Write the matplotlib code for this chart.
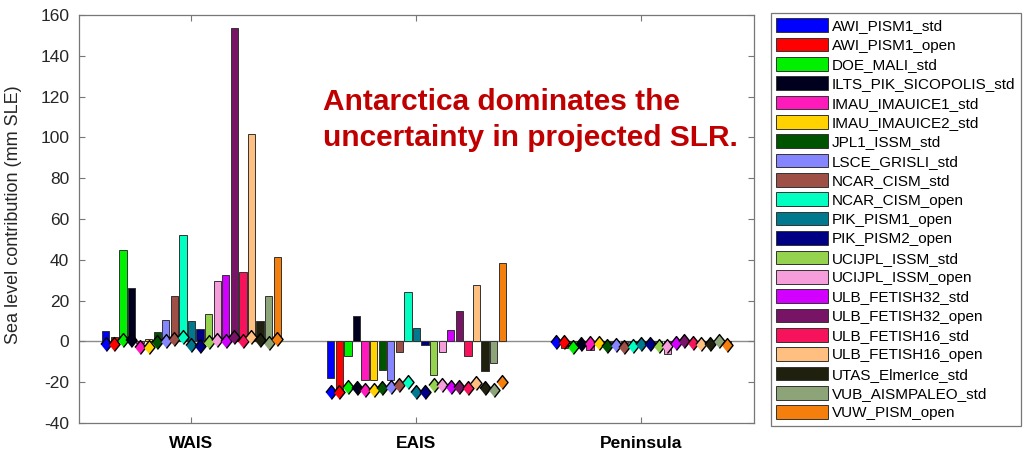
import matplotlib.pyplot as plt
import numpy as np

plt.rcParams["font.family"] = ["Liberation Sans", "DejaVu Sans"]
plt.rcParams["axes.unicode_minus"] = False

regions = ["WAIS", "EAIS", "Peninsula"]

models = [
    "AWI_PISM1_std", "AWI_PISM1_open", "DOE_MALI_std", "ILTS_PIK_SICOPOLIS_std",
    "IMAU_IMAUICE1_std", "IMAU_IMAUICE2_std", "JPL1_ISSM_std", "LSCE_GRISLI_std",
    "NCAR_CISM_std", "NCAR_CISM_open", "PIK_PISM1_open", "PIK_PISM2_open",
    "UCIJPL_ISSM_std", "UCIJPL_ISSM_open", "ULB_FETISH32_std", "ULB_FETISH32_open",
    "ULB_FETISH16_std", "ULB_FETISH16_open", "UTAS_ElmerIce_std", "VUB_AISMPALEO_std",
    "VUW_PISM_open",
]

colors = [
    "#0000ff", "#ff0000", "#00f000", "#00001e",
    "#ff1abc", "#ffd200", "#005400", "#8585ff",
    "#9e4f46", "#00ffc1", "#00788d", "#000084",
    "#95d34f", "#f69edc", "#d200ff", "#781466",
    "#f7125c", "#ffbf81", "#20200e", "#8da378",
    "#f57f0c",
]

# bar heights (mm SLE), one value per model
bars_wais = [5, 2, 45, 26, -1, 1, 4.5, 10.5, 22.5, 52, 10, 6,
             13.5, 29.5, 32.5, 153.5, 34, 101.5, 10, 22.5, 41.5]
bars_eais = [-18, -24, -7, 12.5, -19, -19, -14, -19, -5, 24, 6.5, -2,
             -16.5, -5, 5.5, 15, -7, 27.5, -14.5, -10.5, 38.5]
bars_pen = [-0.5, -3, -1, -0.5, -4, -0.5, -1, -1, -1, -0.5, -0.5, -0.5,
            -1, -6, -0.5, -0.5, -1, -0.5, -1, -0.5, -1]

# diamond markers (mm SLE)
dia_wais = [-1.1, -1.3, 0.8, 0.8, -2.5, -2.5, -0.5, 0, 1.1, 2.1, -1.6, -2.1,
            -0.5, 0.5, 0, 2.1, 0, 2, 0.8, -0.8, 1.1]
dia_eais = [-25, -25, -22.5, -23, -24, -24, -23, -22.5, -21.2, -19.9, -25, -25,
            -21.4, -21.4, -22.5, -22.2, -22.6, -20.5, -22.6, -24, -19.9]
dia_pen = [-0.3, -0.3, -2.8, -1.1, -0.7, -0.7, -2.3, -2, -2.8, -2.3, -1.5, -1.1,
           -2.3, -2.3, -0.7, 0.2, -1, -1.5, -1.5, 0, -2]

bars = np.array([bars_wais, bars_eais, bars_pen])
dias = np.array([dia_wais, dia_eais, dia_pen])

fig = plt.figure(figsize=(10.27, 4.49), dpi=100)
ax = fig.add_axes([79 / 1027, 26 / 449, 675 / 1027, 408 / 449])

groups = np.arange(1, len(regions) + 1)
n = len(models)
step = 0.8 / n
diamond = [(0, -1), (0.8, 0), (0, 1), (-0.8, 0)]

ax.axhline(0, color="#8c8c8c", lw=1.0, zorder=1)
for i, (name, col) in enumerate(zip(models, colors)):
    x = groups + (i - (n - 1) / 2) * step
    ax.bar(x, bars[:, i], width=step * 0.85, color=col, edgecolor="#333333",
           linewidth=0.7, label=name, zorder=2)
for i, col in enumerate(colors):
    x = groups + (i - (n - 1) / 2) * step
    ax.plot(x, dias[:, i], linestyle="none", marker=diamond, markersize=10,
            markerfacecolor=col, markeredgecolor="black", markeredgewidth=1.0,
            zorder=3)

ax.set_xlim(0.5, 3.5)
ax.set_ylim(-40, 160)
ax.set_yticks(np.arange(-40, 161, 20))
ax.set_xticks(groups)
ax.set_xticklabels(regions, fontsize=12.5, fontweight="bold")
ax.tick_params(axis="y", labelsize=12.5, labelcolor="#262626")
ax.tick_params(direction="in", length=4, width=0.8, color="#777777",
               top=True, right=True)
ax.tick_params(axis="x", pad=9)
ax.tick_params(axis="y", pad=7)
for sp in ax.spines.values():
    sp.set_color("#777777")
    sp.set_linewidth(0.9)

ax.set_ylabel("Sea level contribution (mm SLE)", fontsize=13, color="#262626")
ax.yaxis.set_label_coords(-0.085, 0.51)

ax.text(0.361, 0.82, "Antarctica dominates the\nuncertainty in projected SLR.",
        transform=ax.transAxes, ha="left", va="top", fontsize=21.5,
        fontweight="bold", color="#c00000", linespacing=1.35)

leg = fig.legend(loc="upper left", bbox_to_anchor=(771 / 1027, 1 - 13 / 449),
                 fontsize=11, handlelength=3.4, handleheight=1.0,
                 handletextpad=0.25, labelspacing=0.28, borderpad=0.35,
                 borderaxespad=0, fancybox=False, framealpha=1)
leg.get_frame().set_edgecolor("#777777")
leg.get_frame().set_linewidth(0.9)

fig.savefig("out.png", dpi=100)
